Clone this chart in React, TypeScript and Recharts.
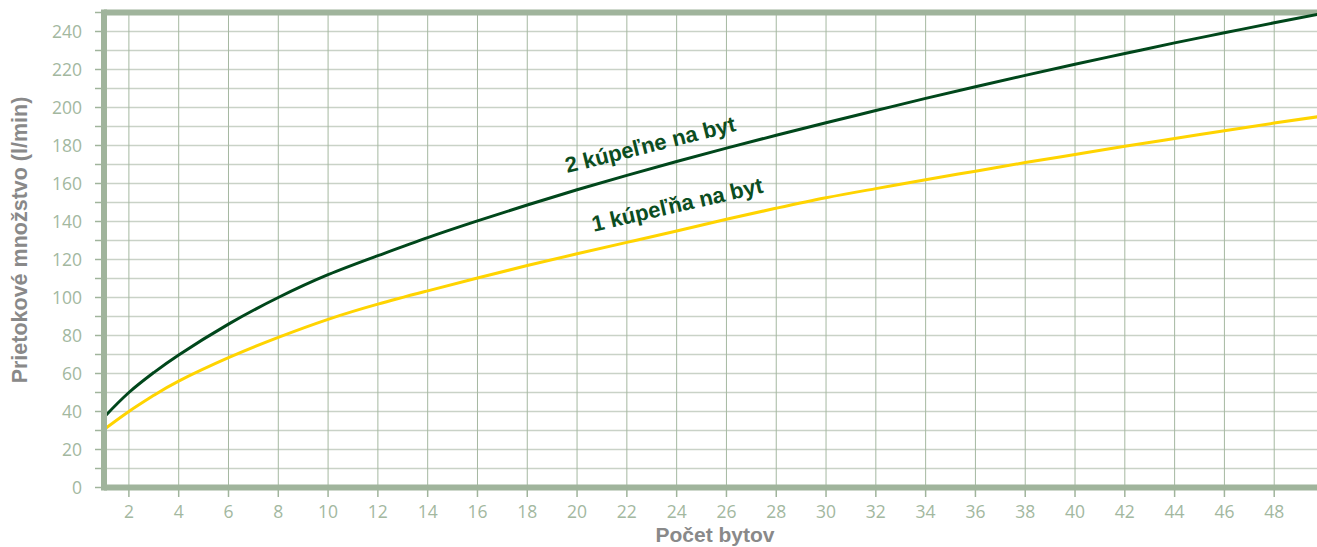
import { LineChart, Line, XAxis, YAxis, CartesianGrid, ReferenceLine, ReferenceDot } from "recharts";

// values (x = počet bytov)
const FLATS = [1, 2, 3, 4, 6, 8, 10, 12, 14, 16, 18, 20, 22, 24, 26, 28, 30, 32, 34, 36, 38, 40, 42, 44, 46, 48, 50];
const TWO_BATHS = [37, 50, 60.5, 69.8, 86, 100, 112, 122, 131.5, 140.3, 148.7, 156.7, 164.3, 171.6, 178.6, 185.4, 192, 198.4, 204.8, 210.9, 216.9, 222.8, 228.4, 234, 239.3, 244.6, 249.6];
const ONE_BATH = [30.5, 40, 48.5, 56, 68.3, 79, 88.5, 96.5, 103.5, 110.3, 116.8, 123, 129, 135, 141.2, 147, 152.5, 157.3, 162, 166.5, 171, 175.3, 179.6, 183.7, 187.8, 191.8, 195.6];

const X_TICKS = [2, 4, 6, 8, 10, 12, 14, 16, 18, 20, 22, 24, 26, 28, 30, 32, 34, 36, 38, 40, 42, 44, 46, 48, 50];
const Y_TICKS = [0, 10, 20, 30, 40, 50, 60, 70, 80, 90, 100, 110, 120, 130, 140, 150, 160, 170, 180, 190, 200, 210, 220, 230, 240, 250];

const AXIS = "#a0b49c";
const TICK_TEXT = "#a3b89f";
const GRID_H = "#c9d2c7";
const GRID_V = "#a5b8a1";
const DARK = "#00471b";
const YELLOW = "#ffd400";
const TITLE = "#898989";
const SANS = "'Liberation Sans', Arial, sans-serif";

const data = FLATS.map((x, i) => ({ x, two: TWO_BATHS[i], one: ONE_BATH[i] }));

function YTick(props: any) {
  const { x, y, payload } = props;
  if (payload.value % 20 !== 0 || payload.value > 240) return <g />;
  return (
    <text x={x} y={y} dy="0.35em" textAnchor="end" fill={TICK_TEXT} fontSize={17.5} fontFamily="'Open Sans', sans-serif">
      {payload.value}
    </text>
  );
}

function XTick(props: any) {
  const { x, y, payload } = props;
  if (payload.value > 48) return <g />;
  return (
    <text x={x} y={y} dy="0.71em" textAnchor="middle" fill={TICK_TEXT} fontSize={17.5} fontFamily="'Open Sans', sans-serif">
      {payload.value}
    </text>
  );
}

function curveLabel(text: string, angle: number) {
  return (props: any) => {
    const vb = props.viewBox || {};
    const cx = vb.x + (vb.width || 0) / 2;
    const cy = vb.y + (vb.height || 0) / 2;
    return (
      <text
        x={cx}
        y={cy}
        textAnchor="middle"
        transform={`rotate(${angle}, ${cx}, ${cy})`}
        fill="#0b4d21"
        fontSize={22}
        fontWeight="700"
        fontFamily={SANS}
      >
        {text}
      </text>
    );
  };
}

export default function App() {
  return (
    <div style={{ position: "absolute", left: 0, top: 0, width: 1317, height: 547, overflow: "hidden", background: "#fff" }}>
      <LineChart width={1331} height={547} data={data} margin={{ top: 12.5, right: 7, bottom: 0, left: 1 }}>
        <CartesianGrid vertical={false} stroke={GRID_H} strokeWidth={1.5} />
        <CartesianGrid horizontal={false} stroke={GRID_V} strokeWidth={1} />
        <XAxis
          type="number"
          dataKey="x"
          domain={[1, 50]}
          ticks={X_TICKS}
          interval={0}
          height={59.5}
          tickSize={9.5}
          tickMargin={9}
          axisLine={{ stroke: AXIS, strokeWidth: 6 }}
          tickLine={{ stroke: AXIS, strokeWidth: 1.5 }}
          tick={<XTick />}
          label={() => (
            <text x={715} y={542} textAnchor="middle" fill={TITLE} fontSize={21} fontWeight="700" fontFamily={SANS}>
              Počet bytov
            </text>
          )}
        />
        <YAxis
          type="number"
          domain={[0, 250]}
          ticks={Y_TICKS}
          interval={0}
          width={103}
          tickSize={9}
          tickMargin={13}
          axisLine={{ stroke: AXIS, strokeWidth: 6, strokeLinecap: "square" }}
          tickLine={{ stroke: AXIS, strokeWidth: 1.5 }}
          tick={<YTick />}
          label={() => (
            <text
              x={26.5}
              y={240}
              textAnchor="middle"
              transform="rotate(-90, 26.5, 240)"
              fill={TITLE}
              fontSize={21.5}
              fontWeight="700"
              fontFamily={SANS}
            >
              Prietokové množstvo (l/min)
            </text>
          )}
        />
        <ReferenceLine y={250} stroke={AXIS} strokeWidth={6} />
        <Line type="natural" dataKey="one" stroke={YELLOW} strokeWidth={3} dot={false} isAnimationActive={false} />
        <Line type="natural" dataKey="two" stroke={DARK} strokeWidth={3} dot={false} isAnimationActive={false} />
        <ReferenceDot x={23.01} y={176.6} r={1} fill="none" stroke="none" label={curveLabel("2 kúpeľne na byt", -14)} />
        <ReferenceDot x={24.09} y={145} r={1} fill="none" stroke="none" label={curveLabel("1 kúpeľňa na byt", -13)} />
      </LineChart>
    </div>
  );
}
